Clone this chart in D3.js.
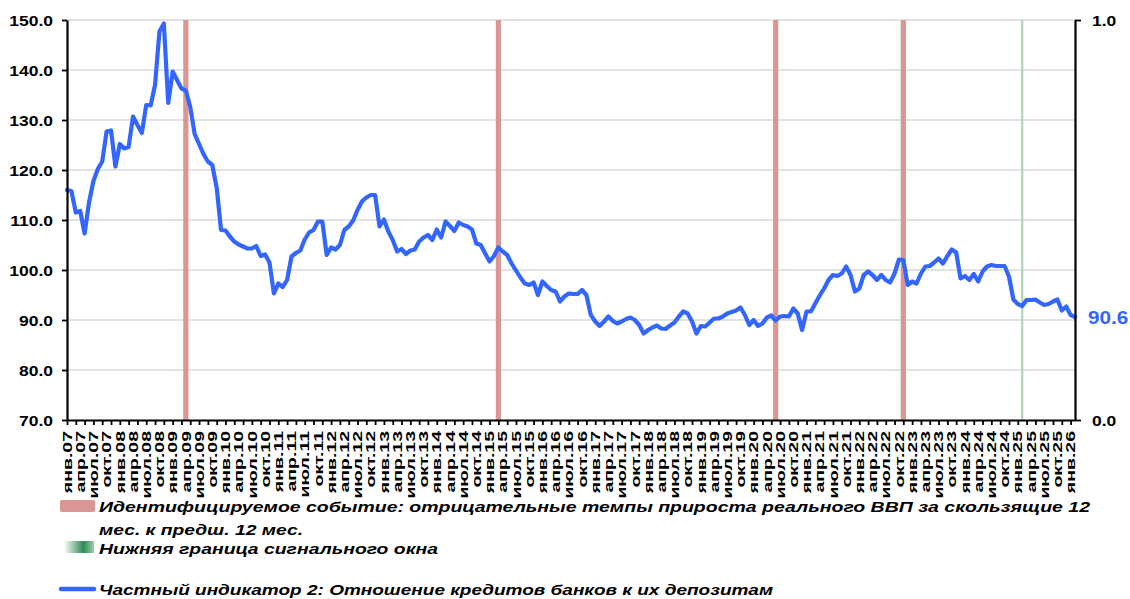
<!DOCTYPE html>
<html><head><meta charset="utf-8">
<script src="https://cdn.jsdelivr.net/npm/d3@7"></script>
<style>body{margin:0;background:#fff}svg{display:block}</style>
</head><body>
<svg id="c" width="1130" height="599"></svg>
<script>
// ---- data ----
const startMonth = [2007, 0]; // январь 2007
const values = [
116.0,115.8,111.5,111.8,107.3,113.5,117.8,120.2,121.7,127.7,127.9,120.7,
125.2,124.3,124.6,130.7,129.0,127.4,133.0,132.9,137.0,147.7,149.3,133.4,
139.7,138.0,136.3,135.9,132.6,127.2,125.2,123.2,121.7,121.0,116.5,108.0,
107.9,106.7,105.7,105.1,104.7,104.3,104.3,104.8,102.8,103.1,101.5,95.3,
97.3,96.6,98.0,102.7,103.4,103.9,106.1,107.5,108.0,109.7,109.7,103.0,
104.5,104.1,105.0,108.0,108.7,109.9,112.0,113.7,114.5,115.0,115.0,108.7,
110.1,107.7,106.0,103.7,104.2,103.2,103.9,104.1,105.7,106.5,107.0,106.0,
108.1,106.5,109.7,108.8,107.8,109.5,109.0,108.7,108.1,105.3,105.0,103.3,
101.7,102.8,104.5,103.7,103.0,101.3,99.9,98.5,97.3,97.0,97.5,95.0,
97.7,96.8,96.0,95.7,93.7,94.7,95.3,95.2,95.2,96.0,95.0,91.0,
89.7,88.8,89.7,90.7,89.8,89.3,89.7,90.2,90.5,90.0,89.0,87.3,
88.0,88.5,88.9,88.3,88.2,88.9,89.5,90.7,91.7,91.3,89.7,87.3,
88.8,88.7,89.5,90.3,90.3,90.7,91.3,91.6,91.9,92.5,91.0,89.0,
90.0,88.8,89.3,90.5,90.9,89.9,90.7,90.8,90.7,92.3,91.3,88.0,
91.7,91.7,93.3,94.9,96.3,98.0,99.0,98.8,99.3,100.7,99.0,95.7,
96.3,99.0,99.7,99.0,98.0,99.0,98.0,97.5,99.3,102.1,102.0,97.0,
97.7,97.3,99.3,100.7,100.8,101.5,102.3,101.3,102.8,104.1,103.5,98.3,
98.8,98.0,99.2,97.7,99.7,100.7,101.0,100.8,100.8,100.8,98.7,94.1,
93.2,92.8,94.0,94.0,94.1,93.5,93.0,93.2,93.7,94.1,91.9,92.7,
91.0,90.6
];
const eventMonths = ["2009-04","2015-03","2020-06","2022-11"];
const signalMonths = ["2025-02"];
const yTicks = [70,80,90,100,110,120,130,140,150];
const y2Ticks = [0,1];
const xTickLabels = [
"янв.07","апр.07","июл.07","окт.07","янв.08","апр.08","июл.08","окт.08",
"янв.09","апр.09","июл.09","окт.09","янв.10","апр.10","июл.10","окт.10",
"янв.11","апр.11","июл.11","окт.11","янв.12","апр.12","июл.12","окт.12",
"янв.13","апр.13","июл.13","окт.13","янв.14","апр.14","июл.14","окт.14",
"янв.15","апр.15","июл.15","окт.15","янв.16","апр.16","июл.16","окт.16",
"янв.17","апр.17","июл.17","окт.17","янв.18","апр.18","июл.18","окт.18",
"янв.19","апр.19","июл.19","окт.19","янв.20","апр.20","июл.20","окт.20",
"янв.21","апр.21","июл.21","окт.21","янв.22","апр.22","июл.22","окт.22",
"янв.23","апр.23","июл.23","окт.23","янв.24","апр.24","июл.24","окт.24",
"янв.25","апр.25","июл.25","окт.25","янв.26"
];
const legendLines = [
  "Идентифицируемое событие: отрицательные темпы прироста реального ВВП за скользящие 12",
  "мес. к предш. 12 мес.",
  "Нижняя граница сигнального окна",
  "Частный индикатор 2: Отношение кредитов банков к их депозитам"
];

// ---- layout ----
const L = 67, R = 1075, T = 20, B = 420;
const FONT = "'Liberation Sans', Arial, sans-serif";
const svg = d3.select("#c");
const fmt = d3.timeFormat("%Y-%m");
const cats = values.map((v, i) => fmt(d3.timeMonth.offset(new Date(startMonth[0], startMonth[1], 1), i)));
const x = d3.scalePoint().domain(cats).range([L, R]).padding(0);
const y = d3.scaleLinear().domain([70, 150]).range([B, T]);
const y2 = d3.scaleLinear().domain([0, 1]).range([B, T]);

// grid
svg.append("g").selectAll("line").data(yTicks.filter(d => d > 70)).join("line")
  .attr("x1", L).attr("x2", R).attr("y1", d => y(d)).attr("y2", d => y(d))
  .attr("stroke", "#d9d9d9").attr("stroke-width", 1.5);

// event bars (secondary axis 0..1)
svg.append("g").selectAll("rect").data(eventMonths).join("rect")
  .attr("x", d => x(d) - 2.6).attr("width", 5.2)
  .attr("y", y2(1)).attr("height", y2(0) - y2(1))
  .attr("fill", "#d99694");
svg.append("g").selectAll("rect").data(signalMonths).join("rect")
  .attr("x", d => x(d) - 1.2).attr("width", 2.4)
  .attr("y", y2(1)).attr("height", y2(0) - y2(1))
  .attr("fill", "#b2d8bb");

// line
svg.append("path").datum(values)
  .attr("fill", "none").attr("stroke", "#3366ff").attr("stroke-width", 4.2)
  .attr("stroke-linejoin", "round").attr("stroke-linecap", "round")
  .attr("d", d3.line().x((d, i) => x(cats[i])).y(d => y(d)));

// left axis
const ga = svg.append("g").attr("transform", `translate(${L},0)`)
  .call(d3.axisLeft(y).tickValues(yTicks).tickSize(5).tickSizeOuter(0).tickFormat(d3.format(".1f")));
ga.select(".domain").attr("stroke", "#000").attr("stroke-width", 2.2);
ga.selectAll(".tick line").attr("stroke", "#000").attr("stroke-width", 1.8);
ga.selectAll(".tick text").attr("x", null).attr("dy", "0.36em")
  .attr("transform", "translate(-14,0) scale(1.25,1)")
  .attr("font-family", FONT).attr("font-size", 14).attr("font-weight", "bold").attr("fill", "#000");

// right axis
const gr = svg.append("g").attr("transform", `translate(${R},0)`)
  .call(d3.axisRight(y2).tickValues(y2Ticks).tickSize(6).tickSizeOuter(0).tickFormat(d3.format(".1f")));
gr.select(".domain").attr("stroke", "#000").attr("stroke-width", 2.2);
gr.selectAll(".tick line").attr("stroke", "#000").attr("stroke-width", 1.8);
gr.selectAll(".tick text").attr("x", null).attr("dy", "0.36em")
  .attr("transform", "translate(17,0) scale(1.25,1)").attr("text-anchor", "start")
  .attr("font-family", FONT).attr("font-size", 14).attr("font-weight", "bold").attr("fill", "#000");

// bottom axis
const gb = svg.append("g").attr("transform", `translate(0,${B})`)
  .call(d3.axisBottom(x).tickValues(cats.filter((c, i) => i % 2 === 0)).tickSize(5).tickSizeOuter(0).tickFormat(""));
gb.select(".domain").attr("stroke", "#000").attr("stroke-width", 2.2);
gb.selectAll(".tick line").attr("stroke", "#000").attr("stroke-width", 1.8);

svg.append("g").selectAll("text").data(xTickLabels).join("text")
  .attr("transform", (d, i) => `translate(${x(cats[i * 3])},431) rotate(-90) scale(1.5,1)`)
  .attr("text-anchor", "end").attr("dy", "0.36em")
  .attr("font-family", FONT).attr("font-size", 13).attr("font-weight", "bold").attr("fill", "#000")
  .text(d => d);

// last value label
svg.append("text")
  .attr("transform", `translate(1088,${y(values[values.length - 1]) + 1}) scale(1.15,1)`)
  .attr("dy", "0.36em")
  .attr("font-family", FONT).attr("font-size", 18).attr("font-weight", "bold").attr("fill", "#3366ff")
  .text(d3.format(".1f")(values[values.length - 1]));

// legend
const defs = svg.append("defs");
const gr2 = defs.append("linearGradient").attr("id", "gsig");
gr2.append("stop").attr("offset", "0%").attr("stop-color", "#ffffff");
gr2.append("stop").attr("offset", "65%").attr("stop-color", "#2e8b57");
gr2.append("stop").attr("offset", "100%").attr("stop-color", "#9ccfaa");

const lg = svg.append("g");
lg.append("rect").attr("x", 60).attr("y", 500).attr("width", 35).attr("height", 12).attr("rx", 2).attr("fill", "#d99694");
lg.append("rect").attr("x", 64).attr("y", 541).attr("width", 30).attr("height", 12).attr("fill", "url(#gsig)");
lg.append("line").attr("x1", 61).attr("x2", 94).attr("y1", 589).attr("y2", 589)
  .attr("stroke", "#3366ff").attr("stroke-width", 4.5).attr("stroke-linecap", "round");

const legY = [512, 535, 554, 595];
const legW = [991, 204, 339, 674];
lg.selectAll("text").data(legendLines).join("text")
  .attr("x", 99).attr("y", (d, i) => legY[i])
  .attr("textLength", (d, i) => legW[i]).attr("lengthAdjust", "spacingAndGlyphs")
  .attr("font-family", FONT).attr("font-size", 15).attr("font-weight", "bold").attr("font-style", "italic")
  .attr("fill", "#000").text(d => d);
</script>
</body></html>
